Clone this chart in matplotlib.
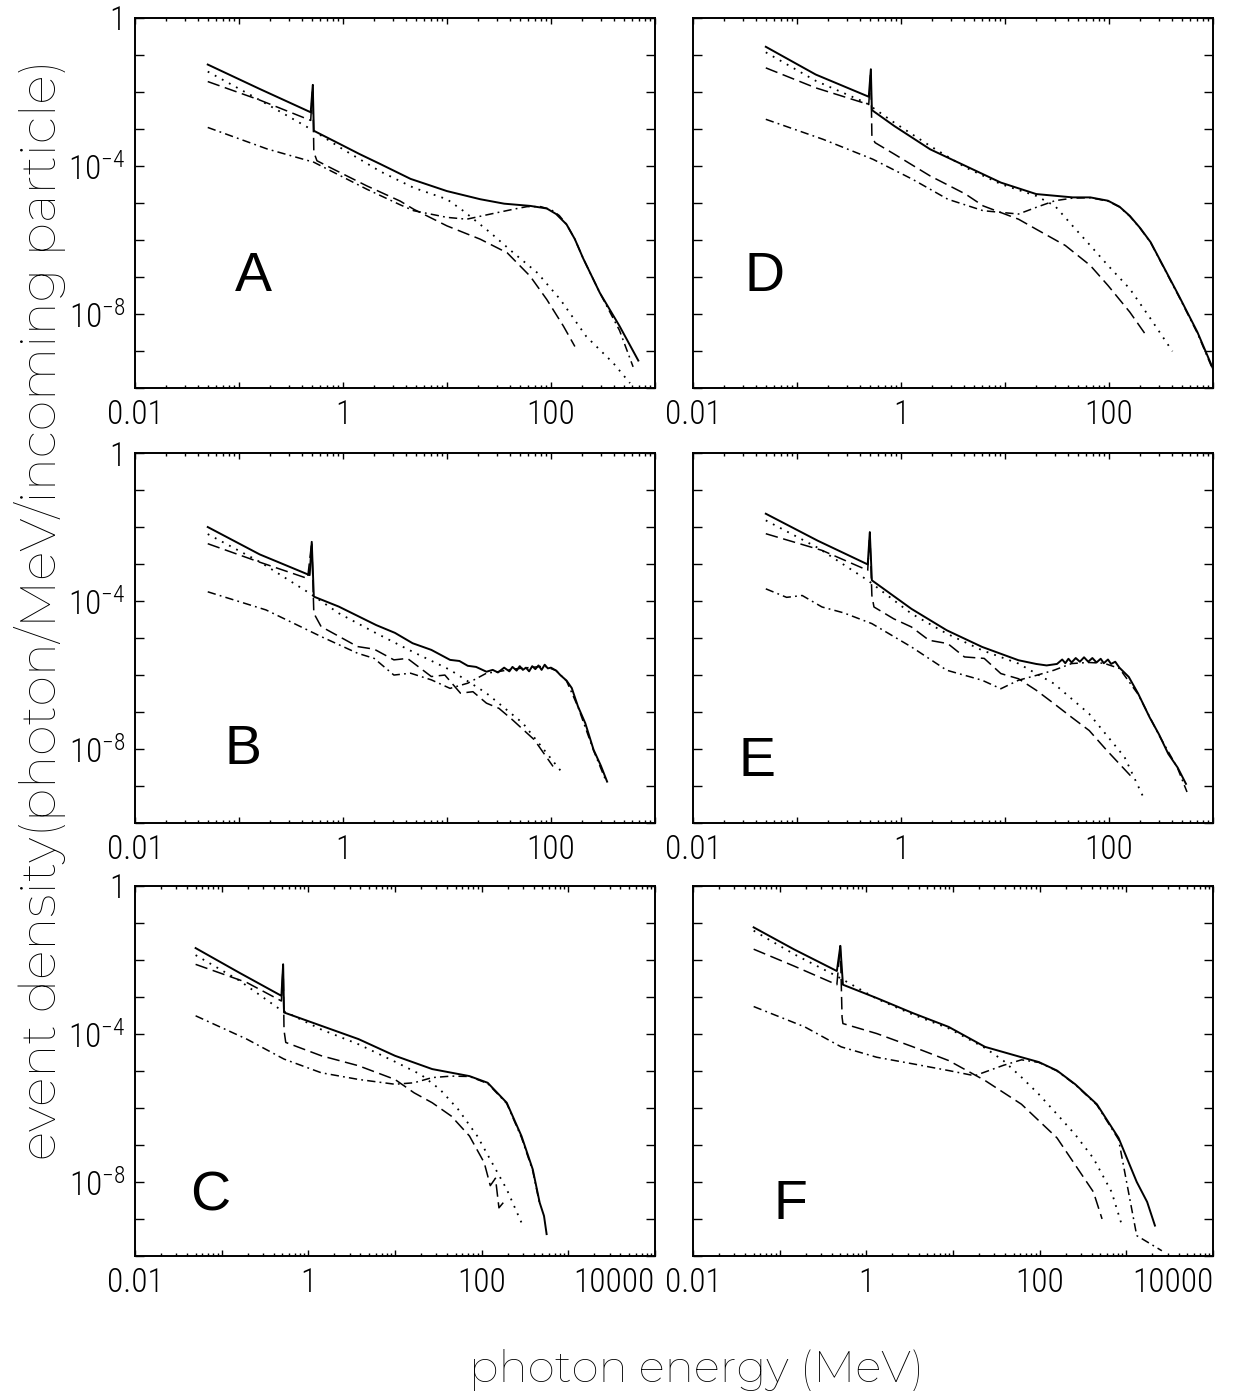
import numpy as np
import matplotlib
matplotlib.use("Agg")
import matplotlib.pyplot as plt
from matplotlib import font_manager as fm
from matplotlib.ticker import FixedLocator, LogLocator, FuncFormatter, NullLocator

# values, stored as log10(E / MeV) and log10(density)

# ---- A ----
A_tot_lgE = [-1.30, -0.80, -0.31, -0.29, -0.28, 0.0, 0.16, 0.36, 0.65, 1.0, 1.32, 1.55, 1.80, 1.96, 2.05, 2.15, 2.23, 2.31, 2.47, 2.66, 2.84]
A_tot_lgY = [-1.26, -1.92, -2.55, -1.81, -3.05, -3.45, -3.68, -3.95, -4.35, -4.68, -4.90, -5.02, -5.08, -5.15, -5.30, -5.58, -5.98, -6.50, -7.43, -8.33, -9.26]
A_dot_lgE = [-1.30, -0.80, -0.30, 0.0, 0.36, 0.68, 1.0, 1.16, 1.42, 1.64, 1.87, 2.09, 2.34, 2.60, 2.76]
A_dot_lgY = [-1.45, -2.22, -3.02, -3.55, -4.15, -4.59, -4.90, -5.22, -5.81, -6.35, -6.89, -7.61, -8.61, -9.33, -9.87]
A_dash_lgE = [-1.30, -0.80, -0.31, -0.29, -0.28, -0.25, -0.09, 0.23, 0.55, 0.68, 1.0, 1.32, 1.58, 1.80, 1.96, 2.12, 2.23]
A_dash_lgY = [-1.72, -2.22, -2.77, -1.81, -3.63, -3.86, -4.09, -4.54, -4.95, -5.17, -5.62, -5.98, -6.35, -6.98, -7.61, -8.33, -8.88]
A_dd_lgE = [-1.30, -0.73, -0.28, 0.23, 0.55, 0.68, 1.0, 1.19, 1.42, 1.64, 1.77, 1.90, 2.0, 2.08, 2.15, 2.23, 2.31, 2.47, 2.66, 2.79]
A_dd_lgY = [-2.96, -3.54, -3.90, -4.63, -5.05, -5.21, -5.39, -5.44, -5.30, -5.17, -5.10, -5.10, -5.18, -5.34, -5.58, -5.98, -6.50, -7.43, -8.45, -9.43]

# ---- B ----
B_tot_lgE = [-1.30, -0.80, -0.32, -0.30, -0.28, -0.04, 0.32, 0.50, 0.67, 0.85, 1.03, 1.12, 1.20, 1.28, 1.38, 1.44,
             1.49, 1.55, 1.60, 1.63, 1.67, 1.70, 1.73, 1.76, 1.79, 1.82, 1.85, 1.88, 1.91, 1.94, 1.97, 2.0,
             2.05, 2.09, 2.15, 2.20, 2.26, 2.33, 2.41, 2.48, 2.54]
B_tot_lgY = [-2.00, -2.74, -3.30, -2.40, -3.88, -4.15, -4.65, -4.86, -5.14, -5.32, -5.59, -5.62, -5.75, -5.78, -5.91, -5.86,
             -5.93, -5.80, -5.90, -5.78, -5.88, -5.76, -5.86, -5.80, -5.90, -5.76, -5.84, -5.74, -5.86, -5.72, -5.82, -5.80,
             -5.88, -6.00, -6.15, -6.35, -6.85, -7.30, -8.02, -8.45, -8.88]
B_dot_lgE = [-1.30, -0.80, -0.32, -0.04, 0.32, 0.67, 1.03, 1.38, 1.73, 2.10]
B_dot_lgY = [-2.19, -2.94, -3.79, -4.33, -4.87, -5.37, -5.86, -6.49, -7.30, -8.61]
B_dash_lgE = [-1.30, -0.80, -0.34, -0.30, -0.28, -0.21, 0.14, 0.30, 0.49, 0.62, 0.85, 0.98, 1.13, 1.25, 1.38, 1.50, 1.63, 1.84, 2.02]
B_dash_lgY = [-2.45, -2.95, -3.39, -2.40, -4.33, -4.69, -5.23, -5.30, -5.59, -5.55, -6.04, -6.00, -6.49, -6.45, -6.76, -6.90, -7.21, -7.75, -8.47]
B_dd_lgE = [-1.30, -0.74, -0.21, 0.14, 0.30, 0.49, 0.65, 0.85, 1.03, 1.20, 1.38, 1.49, 1.63, 1.82, 1.94, 2.05, 2.15, 2.26, 2.41, 2.52]
B_dd_lgY = [-3.75, -4.24, -4.96, -5.41, -5.55, -6.00, -5.95, -6.13, -6.36, -6.22, -5.95, -5.91, -5.84, -5.79, -5.76, -5.88, -6.16, -6.86, -8.04, -8.80]

# ---- C ----
C_tot_lgE = [-1.30, -0.80, -0.31, -0.29, -0.28, 0.15, 0.58, 1.0, 1.43, 1.86, 2.07, 2.29, 2.46, 2.59, 2.67, 2.72, 2.75]
C_tot_lgY = [-1.68, -2.34, -2.97, -2.12, -3.42, -3.78, -4.14, -4.59, -4.95, -5.14, -5.32, -5.86, -6.76, -7.66, -8.56, -8.92, -9.41]
C_dot_lgE = [-1.30, -0.80, -0.33, 0.15, 0.58, 1.0, 1.30, 1.52, 1.73, 1.95, 2.12, 2.29, 2.46]
C_dot_lgY = [-1.87, -2.55, -3.33, -3.88, -4.28, -4.75, -5.10, -5.50, -6.04, -6.76, -7.48, -8.20, -9.10]
C_dash_lgE = [-1.30, -0.71, -0.31, -0.29, -0.28, -0.26, 0.15, 0.58, 1.0, 1.22, 1.43, 1.65, 1.86, 2.03, 2.10, 2.16, 2.20, 2.25]
C_dash_lgY = [-2.12, -2.61, -3.11, -2.12, -3.90, -4.23, -4.59, -4.86, -5.23, -5.59, -5.86, -6.22, -6.76, -7.48, -8.10, -7.90, -8.70, -8.56]
C_dd_lgE = [-1.30, -0.71, -0.28, 0.15, 0.58, 1.0, 1.22, 1.43, 1.65, 1.86, 2.07, 2.29, 2.46, 2.59, 2.67]
C_dd_lgY = [-3.51, -4.14, -4.68, -5.05, -5.23, -5.36, -5.32, -5.18, -5.14, -5.15, -5.34, -5.88, -6.80, -7.70, -8.60]

# ---- D ----
D_tot_lgE = [-1.30, -0.82, -0.31, -0.29, -0.28, -0.065, 0.28, 0.62, 0.96, 1.30, 1.65, 1.82, 1.99, 2.10, 2.20, 2.30, 2.40, 2.67, 2.85, 3.0]
D_tot_lgY = [-0.78, -1.53, -2.13, -1.39, -2.49, -2.92, -3.55, -4.00, -4.45, -4.76, -4.85, -4.85, -4.94, -5.10, -5.35, -5.68, -6.06, -7.50, -8.49, -9.48]
D_dot_lgE = [-1.30, -0.82, -0.34, -0.065, 0.28, 0.62, 0.96, 1.30, 1.48, 1.65, 1.82, 1.99, 2.20, 2.40, 2.61]
D_dot_lgY = [-0.93, -1.70, -2.29, -2.83, -3.46, -4.04, -4.49, -4.81, -5.08, -5.62, -6.15, -6.69, -7.32, -8.13, -9.01]
D_dash_lgE = [-1.30, -0.82, -0.31, -0.29, -0.28, -0.25, -0.065, 0.28, 0.62, 0.79, 1.13, 1.30, 1.58, 1.82, 1.99, 2.20, 2.37]
D_dash_lgY = [-1.35, -1.89, -2.34, -1.39, -3.19, -3.37, -3.68, -4.27, -4.76, -5.08, -5.44, -5.71, -6.15, -6.69, -7.23, -7.95, -8.63]
D_dd_lgE = [-1.30, -0.75, -0.27, 0.11, 0.45, 0.79, 1.13, 1.30, 1.48, 1.65, 1.82, 1.99, 2.10, 2.20, 2.30, 2.40, 2.67, 2.85, 3.0]
D_dd_lgY = [-2.74, -3.28, -3.82, -4.36, -4.90, -5.21, -5.30, -5.12, -4.94, -4.87, -4.86, -4.95, -5.11, -5.36, -5.69, -6.07, -7.52, -8.52, -9.52]

# ---- E ----
E_tot_lgE = [-1.30, -0.80, -0.32, -0.30, -0.28, 0.10, 0.44, 0.78, 1.13, 1.30, 1.40, 1.50, 1.55, 1.58, 1.61, 1.64, 1.68,
             1.72, 1.76, 1.80, 1.84, 1.88, 1.92, 1.95, 1.99, 2.02, 2.06, 2.10, 2.19, 2.28, 2.39, 2.48, 2.57, 2.66, 2.74]
E_tot_lgY = [-1.64, -2.37, -3.01, -2.14, -3.44, -4.21, -4.79, -5.24, -5.60, -5.70, -5.74, -5.70, -5.58, -5.68, -5.56, -5.66, -5.54,
             -5.64, -5.52, -5.64, -5.54, -5.66, -5.56, -5.68, -5.58, -5.70, -5.64, -5.80, -6.05, -6.50, -7.14, -7.60, -8.13, -8.50, -8.94]
E_dot_lgE = [-1.30, -0.80, -0.32, 0.10, 0.44, 0.78, 1.13, 1.47, 1.81, 2.15, 2.33]
E_dot_lgY = [-1.82, -2.56, -3.44, -4.34, -4.88, -5.33, -5.69, -6.23, -7.05, -8.22, -9.30]
E_dash_lgE = [-1.30, -0.76, -0.32, -0.30, -0.28, -0.26, -0.07, 0.10, 0.27, 0.45, 0.61, 0.80, 0.96, 1.13, 1.30, 1.47, 1.64, 1.81, 1.98, 2.22]
E_dash_lgY = [-2.18, -2.63, -3.17, -2.14, -3.85, -4.16, -4.48, -4.70, -5.06, -5.15, -5.51, -5.55, -5.96, -6.10, -6.41, -6.77, -7.14, -7.50, -8.04, -8.76]
E_dd_lgE = [-1.30, -1.10, -0.95, -0.76, -0.55, -0.28, 0.10, 0.44, 0.78, 0.96, 1.13, 1.30, 1.47, 1.64, 1.80, 1.95, 2.10, 2.28, 2.48, 2.66, 2.75]
E_dd_lgY = [-3.67, -3.90, -3.85, -4.16, -4.32, -4.61, -5.24, -5.87, -6.14, -6.37, -6.14, -6.01, -5.87, -5.69, -5.66, -5.68, -5.82, -6.52, -7.62, -8.52, -9.16]

# ---- F ----
F_tot_lgE = [-1.30, -0.83, -0.34, -0.30, -0.27, 0.12, 0.54, 0.95, 1.37, 1.79, 1.99, 2.20, 2.41, 2.66, 2.91, 3.12, 3.24, 3.33]
F_tot_lgY = [-1.12, -1.72, -2.30, -1.62, -2.67, -3.03, -3.44, -3.81, -4.35, -4.63, -4.76, -4.99, -5.36, -5.90, -6.81, -8.00, -8.54, -9.18]
F_dot_lgE = [-1.30, -0.83, -0.34, 0.12, 0.54, 0.95, 1.37, 1.58, 1.79, 1.99, 2.20, 2.41, 2.62, 2.83, 2.95]
F_dot_lgY = [-1.21, -1.85, -2.44, -3.05, -3.48, -3.85, -4.38, -4.72, -5.17, -5.63, -6.17, -6.72, -7.36, -8.27, -9.18]
F_dash_lgE = [-1.30, -0.83, -0.34, -0.30, -0.28, -0.27, 0.12, 0.54, 0.95, 1.37, 1.79, 2.20, 2.41, 2.62, 2.72]
F_dash_lgY = [-1.71, -2.17, -2.67, -1.62, -3.55, -3.72, -3.99, -4.35, -4.72, -5.26, -5.90, -6.81, -7.54, -8.27, -9.00]
F_dd_lgE = [-1.30, -0.71, -0.29, 0.12, 0.54, 0.95, 1.25, 1.58, 1.79, 1.99, 2.20, 2.41, 2.66, 2.91, 3.12, 3.41]
F_dd_lgY = [-3.26, -3.81, -4.35, -4.63, -4.81, -4.99, -5.13, -4.85, -4.70, -4.77, -5.00, -5.37, -5.92, -6.85, -9.45, -9.86]

letters = ["A", "B", "C", "D", "E", "F"]
xmax_exp = {"A": 3, "B": 3, "C": 4, "D": 3, "E": 3, "F": 4}
letter_pos = {"A": (0.228, 0.30), "B": (0.207, 0.197), "C": (0.144, 0.16),
              "D": (0.137, 0.30), "E": (0.123, 0.165), "F": (0.187, 0.137)}


def weight_of(f):
    return f.weight if isinstance(f.weight, int) else fm.weight_dict.get(f.weight, 400)


def first_font(cands, max_weight=None):
    for fam in cands:
        for f in fm.fontManager.ttflist:
            if f.name == fam and (max_weight is None or weight_of(f) <= max_weight):
                return fam
    return None


narrow = ["Roboto Condensed", "Barlow Condensed", "Fira Sans Condensed", "IBM Plex Sans Condensed",
          "Encode Sans Condensed", "Open Sans Condensed", "Archivo Narrow", "PT Sans Narrow",
          "Liberation Sans Narrow"]
tick_font = first_font(narrow, 300) or first_font(narrow) or "DejaVu Sans"
tick_light = first_font([tick_font], 300) is not None
label_font = first_font(["Montserrat", "Poppins", "Raleway", "Lato", "Roboto"], 300) or "DejaVu Sans"
big_font = first_font(["Liberation Sans", "Arimo", "Roboto"]) or "DejaVu Sans"
tick_weight = "light" if tick_light else "normal"

plt.rcParams["mathtext.fontset"] = "custom"
pat = tick_font + (":weight=light" if tick_light else "")
plt.rcParams["mathtext.rm"] = pat
plt.rcParams["mathtext.it"] = pat
plt.rcParams["mathtext.bf"] = pat
plt.rcParams["mathtext.sf"] = pat
plt.rcParams["lines.scale_dashes"] = False


def ylab(v, pos):
    e = int(round(np.log10(v)))
    if e == 0:
        return "1"
    if e in (-4, -8):
        return r"$10^{%d}$" % e
    return ""


def xlab(v, pos):
    e = int(round(np.log10(v)))
    if e % 2 != 0:
        return ""
    return {-2: "0.01", 0: "1", 2: "100", 4: "10000"}[e]


def fit_text(fig, t, target, vertical=False):
    fig.canvas.draw()
    bb = t.get_window_extent()
    size = bb.height if vertical else bb.width
    t.set_fontsize(t.get_fontsize() * target / size)


def main():
    fig = plt.figure(figsize=(12.6, 14), dpi=100)
    lefts = [0.1071, 0.550]
    bottoms = [0.7229, 0.4121, 0.1029]
    w, h = 0.4127, 0.2643

    data = globals()
    for i, L in enumerate(letters):
        col = i // 3
        row = i % 3
        ax = fig.add_axes([lefts[col], bottoms[row], w, h])
        ax.set_xscale("log")
        ax.set_yscale("log")

        styles = [("tot", "-", 1.4), ("dot", (0, (1.3, 4.5)), 1.3),
                  ("dash", (0, (9, 4)), 1.1), ("dd", (0, (6, 3, 1.3, 3)), 1.1)]
        for key, ls, lw in styles:
            ex = np.power(10.0, data[f"{L}_{key}_lgE"])
            ey = np.power(10.0, data[f"{L}_{key}_lgY"])
            ax.plot(ex, ey, color="black", linestyle=ls, linewidth=lw)

        ax.set_xlim(1e-2, 10.0 ** xmax_exp[L])
        ax.set_ylim(1e-10, 1)

        ax.xaxis.set_major_locator(FixedLocator(10.0 ** np.arange(-2, xmax_exp[L] + 1)))
        ax.xaxis.set_minor_locator(LogLocator(base=10, subs=np.arange(2, 10), numticks=20))
        ax.xaxis.set_major_formatter(FuncFormatter(xlab))
        ax.yaxis.set_major_locator(FixedLocator(10.0 ** np.arange(-10, 1)))
        ax.yaxis.set_minor_locator(NullLocator())
        if col == 0:
            ax.yaxis.set_major_formatter(FuncFormatter(ylab))
        else:
            ax.yaxis.set_major_formatter(FuncFormatter(lambda v, p: ""))

        ax.tick_params(axis="both", which="both", direction="in", top=True, right=True,
                       labelsize=24, width=1.0)
        ax.tick_params(axis="x", which="major", length=4.5, pad=8)
        ax.tick_params(axis="x", which="minor", length=2.5)
        ax.tick_params(axis="y", which="major", length=6.5, pad=7)
        for lab in ax.get_xticklabels() + ax.get_yticklabels():
            lab.set_fontfamily(tick_font)
            lab.set_fontweight(tick_weight)
        for sp in ax.spines.values():
            sp.set_linewidth(1.4)

        xt = ax.xaxis.get_major_ticks()
        if xmax_exp[L] == 4:
            xt[-1].label1.set_horizontalalignment("right")
        xt[0].label1.set_horizontalalignment("center")

        ax.text(letter_pos[L][0], letter_pos[L][1], L, transform=ax.transAxes,
                fontsize=40, ha="center", va="center", family=big_font)

    lab_kw = dict(fontsize=30, color="black", family=label_font, fontweight="light")
    ty = fig.text(0.032, 0.565, "event density(photon/MeV/incoming particle)",
                  rotation=90, ha="center", va="center", **lab_kw)
    tx = fig.text(0.553, 0.0215, "photon energy (MeV)", ha="center", va="center", **lab_kw)
    fit_text(fig, ty, 1100, vertical=True)
    fit_text(fig, tx, 455)

    fig.savefig("out.png", dpi=100)


if __name__ == "__main__":
    main()
